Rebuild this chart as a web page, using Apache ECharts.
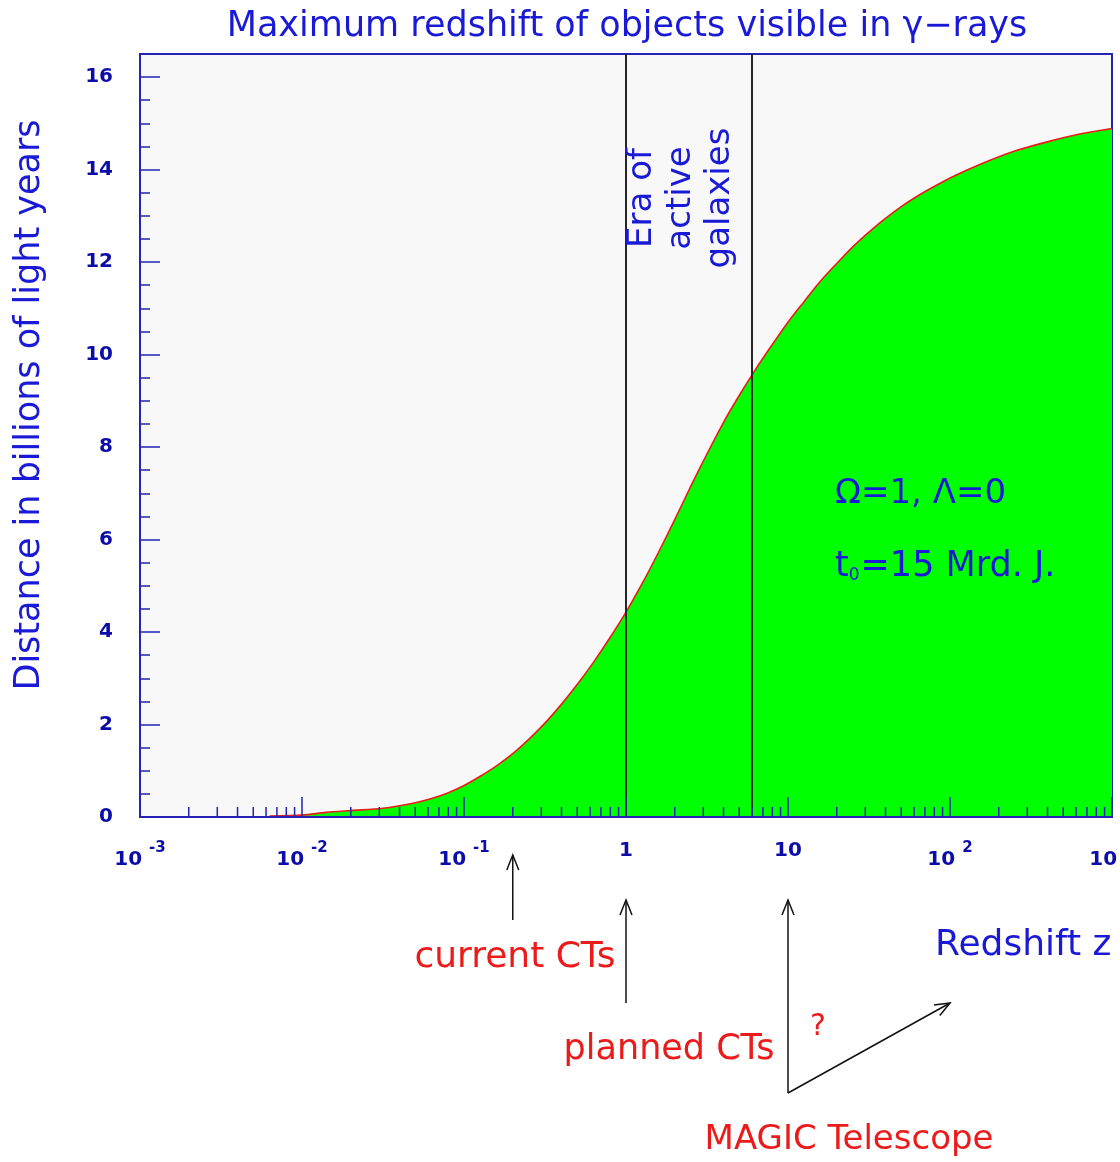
<!DOCTYPE html>
<html>
<head>
<meta charset="utf-8">
<title>Maximum redshift of objects visible in γ-rays</title>
<script src="https://cdn.jsdelivr.net/npm/echarts@6/dist/echarts.min.js"></script>
<style>
  html, body { margin: 0; padding: 0; background: #ffffff; }
  #chart { width: 1120px; height: 1162px; }
</style>
</head>
<body>
<div id="chart"></div>
<script>
// Light-travel distance (billions of light years) against redshift z
const redshift = [0.0063, 0.01, 0.0141, 0.02, 0.0316, 0.05, 0.0631, 0.0794,
                  0.1, 0.126, 0.158, 0.2, 0.251, 0.316, 0.398, 0.501, 0.631, 0.794,
                  1, 1.26, 1.585, 2.0, 2.51, 3.16, 3.98, 5.01, 6.31, 7.94,
                  10, 12.6, 15.8, 20, 25.1, 31.6, 39.8, 50, 63.1, 79.4,
                  100, 158, 251, 398, 631, 1000];
const distance = [0.02, 0.04, 0.1, 0.14, 0.19, 0.31, 0.4, 0.52,
                  0.68, 0.88, 1.1, 1.37, 1.68, 2.03, 2.43, 2.87, 3.35, 3.87,
                  4.43, 5.05, 5.72, 6.43, 7.15, 7.85, 8.52, 9.12, 9.68, 10.2,
                  10.7, 11.15, 11.58, 11.97, 12.33, 12.65, 12.94, 13.2, 13.43, 13.63,
                  13.82, 14.13, 14.4, 14.6, 14.77, 14.89];

// Boundaries of the era of active galaxies (redshift)
const eraBounds = [1, 6];

// Telescope reach markers (redshift)
const reachCurrent = 0.2;
const reachPlanned = 1;
const reachMagic = 10;

// Axis ranges and tick spacing
const zMin = 0.001, zMax = 1000;
const dMin = 0, dMax = 16.5, dMajor = 2, dMinor = 0.5;

// Minor tick positions of the log axis: 2..9 in every decade
const minorTicksZ = [];
for (let e = -3; e < 3; e++) {
  for (let m = 2; m <= 9; m++) minorTicksZ.push(m * Math.pow(10, e));
}

const BLUE = '#1a1ad6';
const AXIS_BLUE = '#2323b4';
const LABEL_BLUE = '#0c0ca8';
const RED = '#ec1a1a';
const FONT = 'DejaVu Sans';

const chart = echarts.init(document.getElementById('chart'), null, { renderer: 'canvas' });

const seriesData = redshift.map((z, i) => [z, distance[i]]);

chart.setOption({
  animation: false,
  backgroundColor: '#ffffff',
  title: {
    text: 'Maximum redshift of objects visible in γ−rays',
    left: 627,
    top: 9,
    textAlign: 'center',
    padding: 0,
    textStyle: { color: BLUE, fontSize: 35, fontWeight: 'normal', fontFamily: FONT }
  },
  grid: {
    left: 140, right: 8, top: 54, bottom: 345,
    containLabel: false,
    outerBoundsMode: 'none',
    show: true,
    backgroundColor: '#f8f8f8',
    borderColor: AXIS_BLUE,
    borderWidth: 2
  },
  xAxis: {
    type: 'log',
    logBase: 10,
    min: zMin,
    max: zMax,
    z: 10,
    axisLine: { lineStyle: { color: AXIS_BLUE, width: 2 } },
    axisTick: { inside: true, length: 20, lineStyle: { color: AXIS_BLUE, width: 1.5 } },
    splitLine: { show: false },
    axisLabel: {
      margin: 24,
      showMinLabel: true,
      showMaxLabel: true,
      hideOverlap: false,
      formatter: function (v) {
        const e = Math.round(Math.log10(v));
        if (e === 0) return '{b|1}';
        if (e === 1) return '{b|10}';
        return '{b|10}{s|' + e + '}';
      },
      rich: {
        b: { fontSize: 20, fontWeight: 'bold', color: LABEL_BLUE, fontFamily: FONT, verticalAlign: 'bottom' },
        s: { fontSize: 15, fontWeight: 'bold', color: LABEL_BLUE, fontFamily: FONT,
             verticalAlign: 'bottom', padding: [0, 0, 14, 7] }
      }
    }
  },
  yAxis: [
    {
      type: 'value',
      min: dMin, max: dMax, interval: dMajor,
      z: 10,
      axisLine: { show: true, lineStyle: { color: AXIS_BLUE, width: 2 } },
      axisTick: { inside: true, length: 20, lineStyle: { color: AXIS_BLUE, width: 1.5 } },
      splitLine: { show: false },
      axisLabel: {
        margin: 27,
        color: LABEL_BLUE,
        fontSize: 20,
        fontWeight: 'bold',
        fontFamily: FONT,
        formatter: v => (v % dMajor === 0 ? String(v) : '')
      }
    },
    {
      type: 'value',
      position: 'left',
      min: dMin, max: dMax, interval: dMinor,
      z: 10,
      axisLine: { show: false },
      axisTick: { inside: true, length: 10, lineStyle: { color: AXIS_BLUE, width: 1.5 } },
      axisLabel: { show: false },
      splitLine: { show: false }
    }
  ],
  series: [
    {
      name: 'distance',
      type: 'line',
      data: seriesData,
      smooth: 0.3,
      showSymbol: false,
      z: 2,
      lineStyle: { color: RED, width: 1.6 },
      areaStyle: { color: '#00ff00', opacity: 1 },
      markLine: {
        silent: true,
        symbol: 'none',
        label: { show: false },
        lineStyle: { color: '#262626', width: 2, type: 'solid' },
        data: eraBounds.map(z => ({ xAxis: z }))
      }
    },
    {
      name: 'minor ticks',
      type: 'custom',
      z: 11,
      silent: true,
      data: minorTicksZ.map(z => [z, dMin]),
      renderItem: function (params, api) {
        const p = api.coord([api.value(0), api.value(1)]);
        return {
          type: 'line',
          shape: { x1: p[0], y1: p[1], x2: p[0], y2: p[1] - 10 },
          style: { stroke: AXIS_BLUE, lineWidth: 1.5 }
        };
      }
    }
  ]
});

// Annotations, placed from the x scale where they point at a redshift
const xAt = z => chart.convertToPixel({ xAxisIndex: 0 }, z);

function arrow(x1, y1, x2, y2) {
  // line from (x1,y1) to the tip (x2,y2) with an open head
  const dx = x2 - x1, dy = y2 - y1;
  const len = Math.sqrt(dx * dx + dy * dy);
  const ux = dx / len, uy = dy / len;
  const hl = 15, hw = 6;
  const bx = x2 - ux * hl, by = y2 - uy * hl;
  const style = { stroke: '#111111', lineWidth: 1.5 };
  return [
    { type: 'line', z: 100, shape: { x1: x1, y1: y1, x2: x2, y2: y2 }, style: style },
    { type: 'polyline', z: 100, shape: { points: [[bx - uy * hw, by + ux * hw], [x2, y2], [bx + uy * hw, by - ux * hw]] }, style: style }
  ];
}

function label(text, x, y, color, size, align) {
  return {
    type: 'text', z: 100, x: x, y: y,
    style: { text: text, fill: color, fontSize: size, fontFamily: FONT,
             textAlign: align || 'center', textVerticalAlign: 'middle' }
  };
}

const xCur = xAt(reachCurrent), xPlan = xAt(reachPlanned), xMagic = xAt(reachMagic), x100 = xAt(100);

const graphics = []
  .concat(arrow(xCur, 920, xCur, 855))
  .concat(arrow(xPlan, 1003, xPlan, 900))
  .concat(arrow(xMagic, 1093, xMagic, 900))
  .concat(arrow(xMagic, 1093, x100, 1003))
  .concat([
    label('current CTs', 515, 958, RED, 36),
    label('planned CTs', 669, 1050, RED, 35),
    label('?', 818, 1027, RED, 30),
    label('MAGIC Telescope', 849, 1140, RED, 34),
    label('Redshift z', 935, 946, BLUE, 36, 'left'),
    label('Ω=1, Λ=0', 835, 494, BLUE, 34, 'left'),
    {
      type: 'text', z: 100, x: 835, y: 567,
      style: {
        text: '{m|t}{sub|0}{m|=15 Mrd. J.}',
        textAlign: 'left', textVerticalAlign: 'middle',
        rich: {
          m: { fontSize: 35, fill: BLUE, fontFamily: FONT, verticalAlign: 'bottom' },
          sub: { fontSize: 17, fill: BLUE, fontFamily: FONT, verticalAlign: 'bottom', padding: [0, 1, 0, 0] }
        }
      }
    },
    {
      type: 'text', z: 100, x: 681, y: 198, rotation: Math.PI / 2,
      style: {
        text: 'Era of\nactive\ngalaxies',
        fill: BLUE, fontSize: 34, fontFamily: FONT, lineHeight: 39,
        textAlign: 'center', textVerticalAlign: 'middle'
      }
    },
    {
      type: 'text', z: 100, x: 30, y: 405, rotation: Math.PI / 2,
      style: {
        text: 'Distance in billions of light years',
        fill: BLUE, fontSize: 35, fontFamily: FONT,
        textAlign: 'center', textVerticalAlign: 'middle'
      }
    }
  ]);

chart.setOption({ graphic: graphics });
</script>
</body>
</html>
